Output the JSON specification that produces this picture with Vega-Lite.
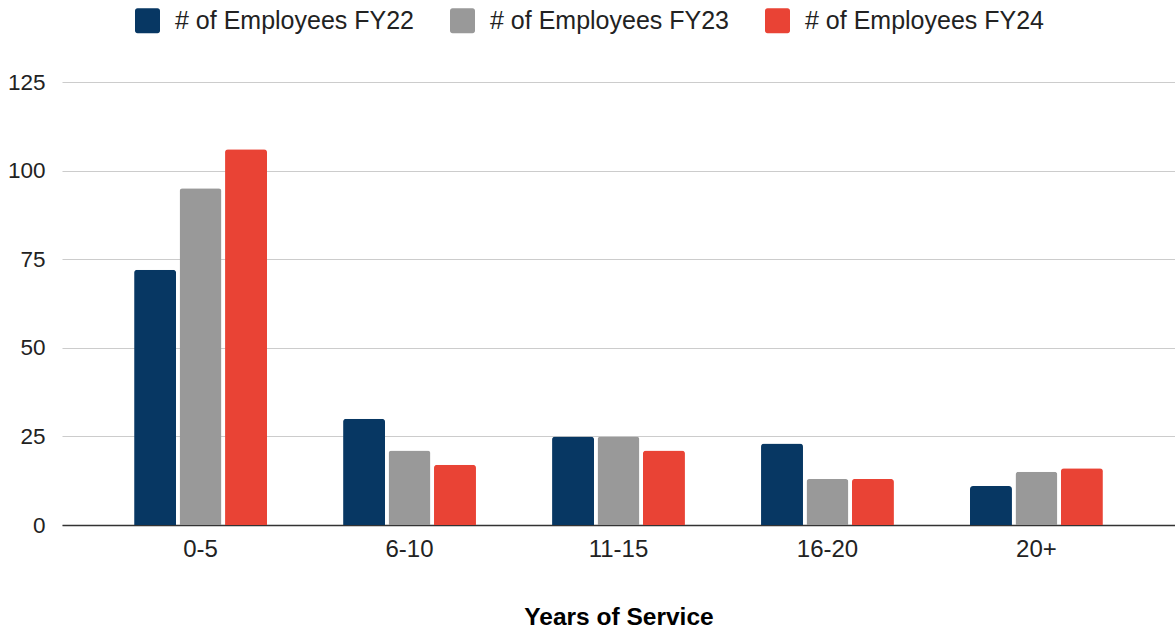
{
  "$schema": "https://vega.github.io/schema/vega-lite/v6.json",
  "autosize": "none",
  "width": 1113,
  "height": 443,
  "padding": {"left": 62, "top": 82, "right": 0, "bottom": 107},
  "background": "white",
  "data": {
    "values": [
      {"years": "0-5", "series": "# of Employees FY22", "count": 72},
      {"years": "0-5", "series": "# of Employees FY23", "count": 95},
      {"years": "0-5", "series": "# of Employees FY24", "count": 106},
      {"years": "6-10", "series": "# of Employees FY22", "count": 30},
      {"years": "6-10", "series": "# of Employees FY23", "count": 21},
      {"years": "6-10", "series": "# of Employees FY24", "count": 17},
      {"years": "11-15", "series": "# of Employees FY22", "count": 25},
      {"years": "11-15", "series": "# of Employees FY23", "count": 25},
      {"years": "11-15", "series": "# of Employees FY24", "count": 21},
      {"years": "16-20", "series": "# of Employees FY22", "count": 23},
      {"years": "16-20", "series": "# of Employees FY23", "count": 13},
      {"years": "16-20", "series": "# of Employees FY24", "count": 13},
      {"years": "20+", "series": "# of Employees FY22", "count": 11},
      {"years": "20+", "series": "# of Employees FY23", "count": 15},
      {"years": "20+", "series": "# of Employees FY24", "count": 16}
    ]
  },
  "mark": {"type": "bar", "cornerRadiusTopLeft": 3, "cornerRadiusTopRight": 3},
  "encoding": {
    "x": {
      "field": "years",
      "type": "nominal",
      "sort": ["0-5", "6-10", "11-15", "16-20", "20+"],
      "scale": {"paddingInner": 0.364, "paddingOuter": 0.345},
      "axis": {
        "title": "Years of Service",
        "titleFont": "Liberation Sans",
        "titleFontSize": 24.5,
        "titleFontWeight": "bold",
        "titleColor": "#000000",
        "titlePadding": 44,
        "labelFont": "Liberation Sans",
        "labelFontSize": 24,
        "labelColor": "#222222",
        "labelAngle": 0,
        "labelPadding": 12,
        "ticks": false,
        "domain": true,
        "domainColor": "#333333",
        "domainWidth": 1.5,
        "grid": false
      }
    },
    "xOffset": {
      "field": "series",
      "type": "nominal",
      "scale": {"paddingInner": 0.077, "paddingOuter": 0}
    },
    "y": {
      "field": "count",
      "type": "quantitative",
      "scale": {"domain": [0, 125], "nice": false},
      "axis": {
        "title": null,
        "values": [0, 25, 50, 75, 100, 125],
        "labelFont": "Liberation Sans",
        "labelFontSize": 22.5,
        "labelColor": "#222222",
        "labelPadding": 17,
        "ticks": false,
        "domain": false,
        "grid": true,
        "gridColor": "#cccccc",
        "gridWidth": 1.2
      }
    },
    "color": {
      "field": "series",
      "type": "nominal",
      "scale": {
        "domain": ["# of Employees FY22", "# of Employees FY23", "# of Employees FY24"],
        "range": ["#073763", "#999999", "#e94335"]
      },
      "legend": {
        "title": null,
        "orient": "none",
        "direction": "horizontal",
        "legendX": 73,
        "legendY": -74,
        "padding": 0,
        "symbolType": "M-0.8,-1 h1.6 a0.2,0.2 0 0 1 0.2,0.2 v1.6 a0.2,0.2 0 0 1 -0.2,0.2 h-1.6 a0.2,0.2 0 0 1 -0.2,-0.2 v-1.6 a0.2,0.2 0 0 1 0.2,-0.2 z",
        "symbolSize": 625,
        "symbolStrokeWidth": 0,
        "symbolOpacity": 1,
        "labelFont": "Liberation Sans",
        "labelFontSize": 25,
        "labelColor": "#222222",
        "labelOffset": 15,
        "labelLimit": 400,
        "columnPadding": 35
      }
    }
  },
  "config": {
    "view": {"stroke": null}
  }
}
